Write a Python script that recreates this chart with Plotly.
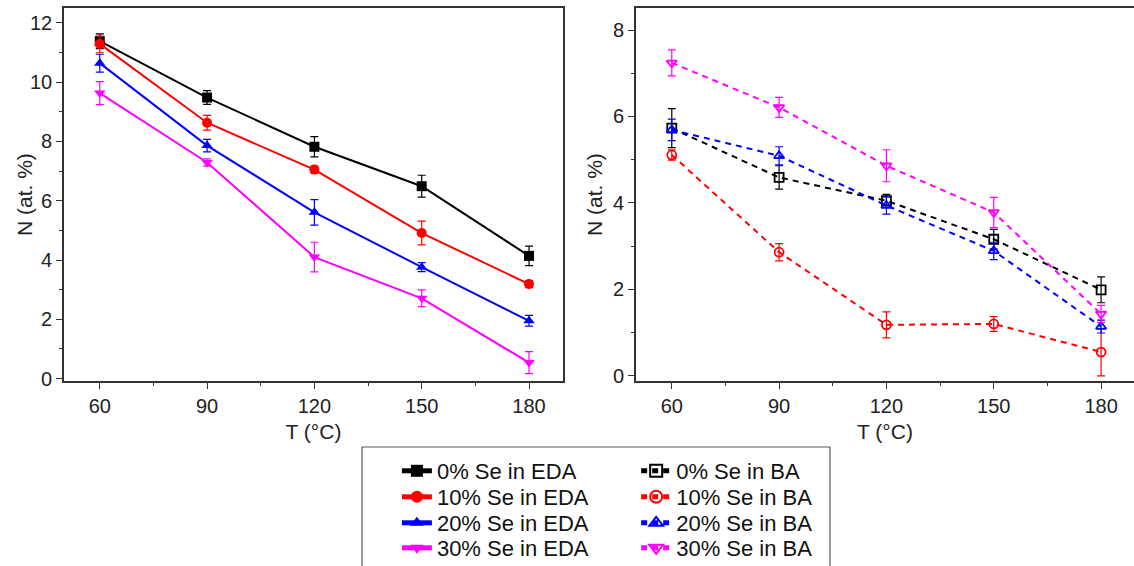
import plotly.graph_objects as go

T = [60, 90, 120, 150, 180]

eda_names = ["0% Se in EDA", "10% Se in EDA", "20% Se in EDA", "30% Se in EDA"]
eda_vals = [
    [11.38, 9.48, 7.82, 6.49, 4.14],
    [11.29, 8.63, 7.05, 4.91, 3.19],
    [10.64, 7.86, 5.61, 3.76, 1.95],
    [9.63, 7.29, 4.10, 2.71, 0.54],
]
eda_err = [
    [0.25, 0.23, 0.34, 0.37, 0.33],
    [0.30, 0.25, 0.12, 0.40, 0.12],
    [0.30, 0.21, 0.43, 0.15, 0.18],
    [0.39, 0.12, 0.50, 0.28, 0.37],
]

ba_names = ["0% Se in BA", "10% Se in BA", "20% Se in BA", "30% Se in BA"]
ba_vals = [
    [5.73, 4.59, 4.05, 3.16, 1.99],
    [5.11, 2.86, 1.18, 1.20, 0.55],
    [5.69, 5.09, 3.94, 2.89, 1.14],
    [7.24, 6.21, 4.86, 3.78, 1.43],
]
ba_err = [
    [0.45, 0.27, 0.15, 0.23, 0.30],
    [0.12, 0.20, 0.30, 0.17, 0.55],
    [0.25, 0.21, 0.20, 0.20, 0.15],
    [0.30, 0.23, 0.37, 0.35, 0.20],
]

x_title = "T (°C)"
y_title = "N (at. %)"

colors = ["#000000", "#ff0000", "#0000ff", "#ff00ff"]
filled_symbols = ["square", "circle", "triangle-up", "triangle-down"]
open_symbols = ["square-open", "circle-open", "triangle-up-open", "triangle-down-open"]

FONT = "Arial, Liberation Sans, sans-serif"
W, H = 1134, 566

# one legend per entry so the row spacing matches the reference
row_px = [471, 497, 523, 548]
legend_ids = ["legend"] + [f"legend{k}" for k in range(2, 9)]

fig = go.Figure()

for i in range(4):
    fig.add_trace(go.Scatter(
        x=T, y=eda_vals[i], name=eda_names[i], mode="lines+markers",
        line=dict(color=colors[i], width=2),
        marker=dict(symbol=filled_symbols[i], size=10, color=colors[i]),
        error_y=dict(type="data", array=eda_err[i], color=colors[i], thickness=1.2, width=4),
        xaxis="x", yaxis="y", legend=legend_ids[i],
    ))

for i in range(4):
    fig.add_trace(go.Scatter(
        x=T, y=ba_vals[i], name=ba_names[i], mode="lines+markers",
        line=dict(color=colors[i], width=2, dash="6px,5px"),
        marker=dict(symbol=open_symbols[i], size=9, color=colors[i], line=dict(width=1.8, color=colors[i])),
        error_y=dict(type="data", array=ba_err[i], color=colors[i], thickness=1.2, width=4),
        xaxis="x2", yaxis="y2", legend=legend_ids[4 + i],
    ))

axis_common = dict(
    showline=True, linecolor="#333333", linewidth=1.6, mirror=True,
    ticks="outside", ticklen=6, tickwidth=1.4, tickcolor="#333333",
    showgrid=False, zeroline=False, automargin=False,
    tickfont=dict(family=FONT, size=20, color="#222222"),
    title_font=dict(family=FONT, size=21, color="#222222"),
)
minor_x = dict(ticks="outside", ticklen=3, tickwidth=1.2, tickcolor="#333333", dtick=15, tick0=60)
minor_y = dict(ticks="outside", ticklen=3, tickwidth=1.2, tickcolor="#333333", dtick=1, tick0=0)

ytop, ybot = 8, 381
ydom = [1 - ybot / H, 1 - ytop / H]

layout_legends = {}
for k, lid in enumerate(legend_ids):
    col, row = divmod(k, 4)
    layout_legends[lid] = dict(
        x=(0.350 if col == 0 else 0.561), y=1 - row_px[row] / H,
        xanchor="left", yanchor="middle", bgcolor="rgba(0,0,0,0)",
        font=dict(family=FONT, size=22, color="#111111"),
        itemsizing="constant",
    )

fig.update_layout(
    width=W, height=H,
    margin=dict(l=0, r=0, t=0, b=0, autoexpand=False),
    paper_bgcolor="white", plot_bgcolor="white",
    showlegend=True,
    xaxis=dict(domain=[64 / W, 563 / W], range=[50, 189.5], tickvals=T, anchor="y", minor=minor_x,
               title=dict(text=x_title, standoff=9), **axis_common),
    yaxis=dict(domain=ydom, range=[-0.08, 12.5], tickvals=[0, 2, 4, 6, 8, 10, 12], anchor="x", minor=minor_y,
               **axis_common),
    xaxis2=dict(domain=[636 / W, 1.0], range=[50, 189.2], tickvals=T, anchor="y2", minor=minor_x,
                title=dict(text=x_title, standoff=9), **axis_common),
    yaxis2=dict(domain=ydom, range=[-0.12, 8.51], tickvals=[0, 2, 4, 6, 8], anchor="x2", minor=minor_y,
                **axis_common),
    shapes=[dict(type="rect", xref="paper", yref="paper",
                 x0=362 / W, x1=830 / W, y0=-0.05, y1=1 - 447 / H,
                 line=dict(color="#555555", width=1.2), fillcolor="rgba(0,0,0,0)")],
    annotations=[
        dict(text=y_title, xref="paper", yref="paper", x=24 / W, y=1 - 195 / H, textangle=-90,
             showarrow=False, xanchor="center", yanchor="middle",
             font=dict(family=FONT, size=21, color="#222222")),
        dict(text=y_title, xref="paper", yref="paper", x=594 / W, y=1 - 195 / H, textangle=-90,
             showarrow=False, xanchor="center", yanchor="middle",
             font=dict(family=FONT, size=21, color="#222222")),
    ],
    **layout_legends,
)

fig.write_html("out.html")
